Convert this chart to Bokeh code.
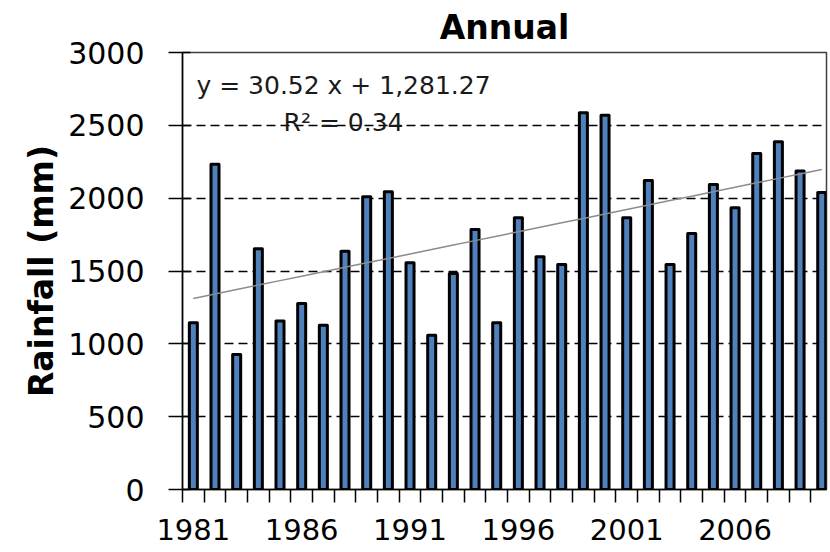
from bokeh.plotting import figure
from bokeh.models import Range1d, FixedTicker, Label
from bokeh.embed import file_html
from bokeh.resources import INLINE

# ---- data ----
years = list(range(1981, 2011))
rainfall = [1144, 2232, 927, 1652, 1156, 1277, 1128, 1636, 2009, 2044,
            1556, 1059, 1483, 1785, 1144, 1865, 1597, 1545, 2586, 2570,
            1865, 2122, 1545, 1758, 2094, 1934, 2307, 2387, 2186, 2039]
y_ticks = [0, 500, 1000, 1500, 2000, 2500, 3000]
x_label_years = [1981, 1986, 1991, 1996, 2001, 2006]
trend_slope = 30.52
trend_intercept = 1281.27
equation_text = "y = 30.52 x + 1,281.27"
r2_text = "R\u00b2 = 0.34"
title_text = "Annual"
y_title = "Rainfall (mm)"

FONT = "DejaVu Sans"

p = figure(width=830, height=552, output_backend="svg", toolbar_location=None,
           x_range=Range1d(1980.5, 2010.22), y_range=Range1d(0, 3000),
           min_border_left=182, min_border_right=4, min_border_top=50,
           min_border_bottom=63, background_fill_color="white",
           border_fill_color="white")

p.title.text = title_text
p.title.align = "center"
p.title.text_font = FONT
p.title.text_font_size = "33px"
p.title.text_font_style = "bold"
p.title.text_color = "black"
p.title.standoff = 11

p.outline_line_color = "#404040"
p.outline_line_width = 1.5

# grid
p.xgrid.visible = False
p.ygrid.grid_line_color = "black"
p.ygrid.grid_line_dash = "9 5"
p.ygrid.grid_line_width = 1.5

# bars
p.vbar(x=years, top=rainfall, width=0.37, bottom=0,
       fill_color="#4F81BD", line_color="black", line_width=3,
       line_join="round")

# trend line from regression equation
trend_y = [trend_intercept + trend_slope * (yr - years[0] + 1) for yr in years]
p.line(x=years, y=trend_y, line_color="#8c8c8c", line_width=1.5)

# x axis: labels at selected years, boundary ticks as minor ticks
boundaries = [yr - 0.5 for yr in years] + [years[-1] + 0.5]
xa = p.xaxis[0]
xa.ticker = FixedTicker(ticks=x_label_years, minor_ticks=boundaries)
xa.major_tick_in = 0
xa.major_tick_out = 0
xa.minor_tick_in = 0
xa.minor_tick_out = 13
xa.minor_tick_line_color = "black"
xa.minor_tick_line_width = 1.5
xa.axis_line_color = "black"
xa.axis_line_width = 1.5
xa.major_label_text_font = FONT
xa.major_label_text_font_size = "29px"
xa.major_label_text_color = "black"
xa.major_label_standoff = 16

# y axis
ya = p.yaxis[0]
ya.ticker = FixedTicker(ticks=y_ticks, minor_ticks=[])
ya.major_tick_in = 8
ya.major_tick_out = 14
ya.major_tick_line_color = "black"
ya.major_tick_line_width = 1.5
ya.axis_line_color = "black"
ya.axis_line_width = 1.5
ya.major_label_text_font = FONT
ya.major_label_text_font_size = "30px"
ya.major_label_text_color = "black"
ya.major_label_standoff = 24
ya.axis_label = y_title
ya.axis_label_text_font = FONT
ya.axis_label_text_font_size = "33px"
ya.axis_label_text_font_style = "bold"
ya.axis_label_text_color = "black"
ya.axis_label_standoff = 4

# regression annotation
p.add_layout(Label(x=1987.93, y=2774, text=equation_text, text_font=FONT,
                   text_font_size="25px", text_color="#1a1a1a",
                   text_align="center", text_baseline="alphabetic"))
p.add_layout(Label(x=1987.93, y=2522, text=r2_text, text_font=FONT,
                   text_font_size="25px", text_color="#1a1a1a",
                   text_align="center", text_baseline="alphabetic"))

open("out.html", "w").write(file_html(p, INLINE))
